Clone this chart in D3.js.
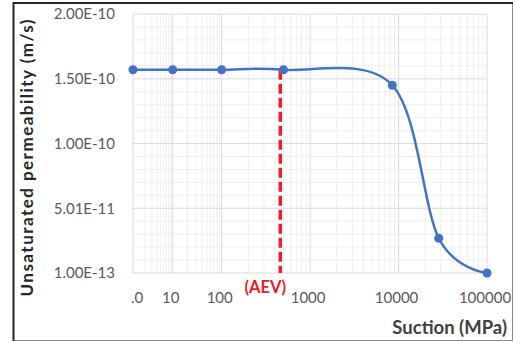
<!DOCTYPE html>
<html>
<meta charset='utf-8'>
<head>
<script src='https://d3js.org/d3.v7.min.js'></script>
<style>
body { margin: 0; background: #fff; }
text { font-family: Lato, 'Open Sans', sans-serif; }
</style>
</head>
<body>
<div id='chart'></div>
<script>

// data
var suction = [1, 10, 100, 500, 8500, 28500, 100000]
var permeability = [1.57e-10, 1.57e-10, 1.57e-10, 1.57e-10, 1.45e-10, 2.69e-11, 1.0e-13]
var xTicks = [1, 10, 100, 1000, 10000, 100000]
var xTickLabels = ['.0', '10', '100', '1000', '10000', '100000']
var yTicks = [1.0e-13, 5.0075e-11, 9.995e-11, 1.49925e-10, 2.0e-10]
var yTickLabels = ['1.00E-13', '5.01E-11', '1.00E-10', '1.50E-10', '2.00E-10']
var aev = 460

var width = 515, height = 342
var plot = {left: 133, right: 487, top: 14, bottom: 273}

var svg = d3.select('#chart')
    .append('svg')
    .attr('width', width)
    .attr('height', height)

// the chart's own frame
svg.append('rect')
    .attr('x', 13.5).attr('y', 3)
    .attr('width', 499).attr('height', 337.5)
    .attr('fill', '#fff')
    .attr('stroke', '#8c8c8c')
    .attr('stroke-width', 1)
svg.append('path')
    .attr('d', 'M13.5,341V3H513')
    .attr('fill', 'none')
    .attr('stroke', '#262626')
    .attr('stroke-width', 2)

// Excel log axis with the first two decades squeezed
var x = d3.scaleLog()
    .domain([1, 10, 100, 100000])
    .range([plot.left, 172.7, 221.7, plot.right])

var y = d3.scaleLinear()
    .domain([1.0e-13, 2.0e-10])
    .range([plot.bottom, plot.top])

// minor grid
var minorX = []
xTicks.slice(0, -1).forEach(function(t) {
    for (var k = 2; k <= 9; k++) minorX.push(t * k)
})
var minorY = []
for (var i = 0; i < yTicks.length - 1; i++) {
    for (var j = 1; j < 5; j++) minorY.push(yTicks[i] + (yTicks[i + 1] - yTicks[i]) * j / 5)
}

svg.append('g').selectAll('line')
    .data(minorX)
    .enter().append('line')
    .attr('x1', function(d) { return x(d) }).attr('x2', function(d) { return x(d) })
    .attr('y1', plot.top).attr('y2', plot.bottom)
    .attr('stroke', '#efefef')
svg.append('g').selectAll('line')
    .data(minorY)
    .enter().append('line')
    .attr('x1', plot.left).attr('x2', plot.right)
    .attr('y1', function(d) { return y(d) }).attr('y2', function(d) { return y(d) })
    .attr('stroke', '#efefef')

// major grid
svg.append('g').selectAll('line')
    .data(xTicks)
    .enter().append('line')
    .attr('x1', function(d) { return x(d) }).attr('x2', function(d) { return x(d) })
    .attr('y1', plot.top).attr('y2', plot.bottom)
    .attr('stroke', '#d9d9d9')
svg.append('g').selectAll('line')
    .data(yTicks)
    .enter().append('line')
    .attr('x1', plot.left).attr('x2', plot.right)
    .attr('y1', function(d) { return y(d) }).attr('y2', function(d) { return y(d) })
    .attr('stroke', '#d9d9d9')

// tick labels
svg.append('g').selectAll('text')
    .data(yTicks)
    .enter().append('text')
    .attr('x', 115)
    .attr('y', function(d) { return y(d) })
    .attr('dy', '0.35em')
    .attr('text-anchor', 'end')
    .attr('font-size', 15)
    .attr('fill', '#595959')
    .text(function(d, i) { return yTickLabels[i] })

svg.append('g').selectAll('text')
    .data(xTicks)
    .enter().append('text')
    .attr('x', function(d, i) { return i == 0 ? 137 : x(d) - 2 })
    .attr('y', 303)
    .attr('text-anchor', 'middle')
    .attr('font-size', 15)
    .attr('fill', '#595959')
    .text(function(d, i) { return xTickLabels[i] })

// AEV marker
svg.append('line')
    .attr('x1', x(aev)).attr('x2', x(aev))
    .attr('y1', y(permeability[3])).attr('y2', plot.bottom)
    .attr('stroke', '#ee1c25')
    .attr('stroke-width', 3.5)
    .attr('stroke-dasharray', '10,4')

svg.append('text')
    .attr('x', x(aev) - 15)
    .attr('y', 293)
    .attr('text-anchor', 'middle')
    .attr('font-size', 16.5)
    .attr('font-weight', 'bold')
    .attr('fill', '#ee1c25')
    .text('(AEV)')

// series
var pts = suction.map(function(d, i) { return [d, permeability[i]] })

svg.append('path')
    .datum(pts)
    .attr('fill', 'none')
    .attr('stroke', '#4472c4')
    .attr('stroke-width', 2.5)
    .attr('d', d3.line()
        .curve(d3.curveCatmullRom.alpha(0))
        .x(function(d) { return x(d[0]) })
        .y(function(d) { return y(d[1]) }))

svg.append('g').selectAll('circle')
    .data(pts)
    .enter().append('circle')
    .attr('cx', function(d) { return x(d[0]) })
    .attr('cy', function(d) { return y(d[1]) })
    .attr('r', 4.5)
    .attr('fill', '#4472c4')

// axis titles
svg.append('text')
    .attr('transform', 'translate(33,158) rotate(-90)')
    .attr('text-anchor', 'middle')
    .attr('font-size', 17)
    .attr('font-weight', 'bold')
    .attr('fill', '#262626')
    .attr('textLength', 277)
    .attr('lengthAdjust', 'spacing')
    .text('Unsaturated permeability (m/s)')

svg.append('text')
    .attr('x', 507)
    .attr('y', 334)
    .attr('text-anchor', 'end')
    .attr('font-size', 18.5)
    .attr('font-weight', 'bold')
    .attr('fill', '#404040')
    .text('Suction (MPa)')

</script>
</body>
</html>
